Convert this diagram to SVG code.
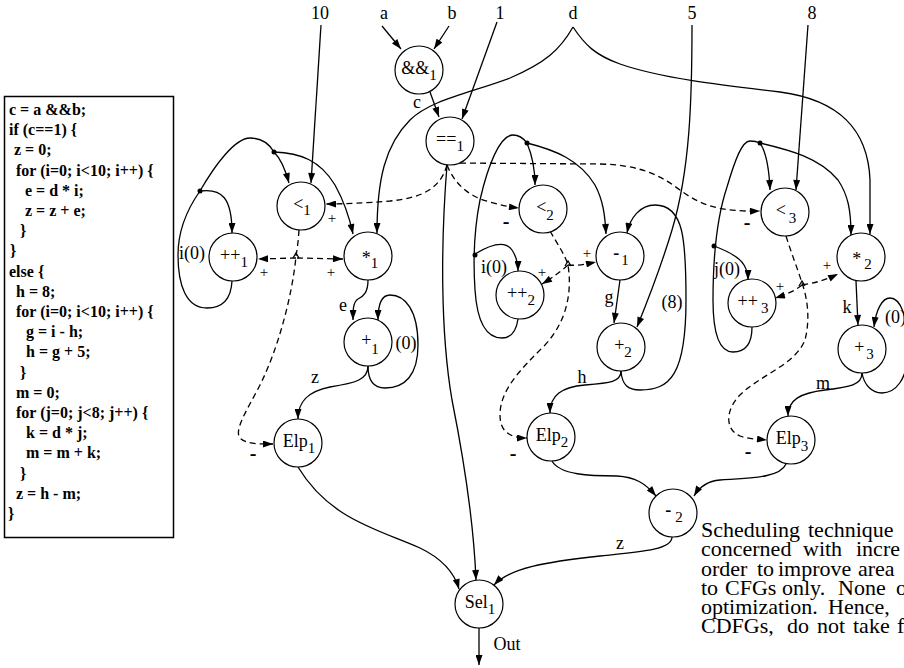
<svg xmlns="http://www.w3.org/2000/svg" width="904" height="668" viewBox="0 0 904 668">
<style>
text{font-family:"Liberation Serif","Times New Roman",serif;fill:#000}
.code{font-size:16px;font-weight:bold}
.lbl{font-size:18px}
.nl{font-size:18px;text-anchor:middle}
.sm{font-size:15px}
.mn{font-size:20px;font-weight:bold}
.par{font-size:22px}
.e{fill:none;stroke:#000;stroke-width:1.3}
.d{stroke-dasharray:6,4}
.n circle{fill:#fff;stroke:#000;stroke-width:1.2}
.dot{fill:#000}
</style>
<defs>
<marker id="ah" viewBox="0 0 10 7" refX="10" refY="3.5" markerWidth="11" markerHeight="7" markerUnits="userSpaceOnUse" orient="auto"><path d="M0,0 L10,3.5 L0,7 Z" fill="#000"/></marker>
</defs>
<rect x="4.5" y="96.5" width="169" height="441" fill="#fff" stroke="#000" stroke-width="1.5"/>
<g class="code">
<text x="9" y="115">c = a &amp;&amp;b;</text>
<text x="9" y="135">if (c==1) {</text>
<text x="14" y="155">z = 0;</text>
<text x="16" y="176">for (i=0; i&lt;10; i++) {</text>
<text x="25" y="196">e = d * i;</text>
<text x="25" y="216">z = z + e;</text>
<text x="20" y="236">}</text>
<text x="10" y="256">}</text>
<text x="9" y="277">else {</text>
<text x="16" y="297">h = 8;</text>
<text x="16" y="317">for (i=0; i&lt;10; i++) {</text>
<text x="26" y="337">g = i - h;</text>
<text x="26" y="357">h = g + 5;</text>
<text x="20" y="378">}</text>
<text x="16" y="398">m = 0;</text>
<text x="16" y="418">for (j=0; j&lt;8; j++) {</text>
<text x="26" y="438">k = d * j;</text>
<text x="26" y="458">m = m + k;</text>
<text x="20" y="479">}</text>
<text x="16" y="499">z = h - m;</text>
<text x="8" y="519">}</text>
</g>
<g id="inputs" class="lbl">
<text x="320" y="19" text-anchor="middle">10</text>
<text x="384" y="19" text-anchor="middle">a</text>
<text x="452" y="19" text-anchor="middle">b</text>
<text x="500" y="19" text-anchor="middle">1</text>
<text x="573" y="19" text-anchor="middle">d</text>
<text x="692" y="19" text-anchor="middle">5</text>
<text x="812" y="19" text-anchor="middle">8</text>
</g>
<g id="connectors">
<path class="e" marker-end="url(#ah)" d="M321,25 L311,183"/>
<path class="e" marker-end="url(#ah)" d="M382,26 L401,49"/>
<path class="e" marker-end="url(#ah)" d="M449,26 L434,49"/>
<path class="e" marker-end="url(#ah)" d="M430,92 L439,117"/>
<path class="e" marker-end="url(#ah)" d="M497,22 L462,119"/>
<path class="e" marker-end="url(#ah)" d="M573,27 C560,50 545,63 510,78 C470,93 430,100 410,120 C385,145 377,180 377,233"/>
<path class="e" marker-end="url(#ah)" d="M573,27 C585,45 595,55 620,64 C660,78 720,85 780,92 C840,100 868,130 870,180 L870,234"/>
<path class="e" marker-end="url(#ah)" d="M692,25 C692,100 690,170 672,230 C660,270 648,300 637,327"/>
<path class="e" marker-end="url(#ah)" d="M808,25 L796,190"/>
<path class="e" marker-end="url(#ah)" d="M447,165 C441,240 440,330 452,400 C466,470 474,530 476,580"/>
<!-- loop 1 -->
<path class="e" d="M232,281 C231,300 222,308 207,308 C186,308 178,285 178,255 C178,228 188,208 200,191 C215,165 235,138 250,138 C262,138 270,145 274,152"/>
<path class="e" marker-end="url(#ah)" d="M274,152 C282,160 286,172 289,183"/>
<path class="e" marker-end="url(#ah)" d="M274,152 C300,153 320,160 335,185 C345,203 350,220 353,234"/>
<path class="e" marker-end="url(#ah)" d="M200,191 C222,188 232,198 232,233"/>
<path class="e" marker-end="url(#ah)" d="M368,280 C368,292 364,296 358,299 C353,302 353,310 353,320"/>
<path class="e" marker-end="url(#ah)" d="M368,366 C368,378 372,388 385,388 C405,388 418,375 418,345 C418,310 405,295 390,295 C381,295 378,305 378,320"/>
<path class="e" marker-end="url(#ah)" d="M368,366 C368,380 355,383 330,387 C310,391 298,400 298,419"/>
<path class="e" marker-end="url(#ah)" d="M298,467 C330,520 380,530 420,548 C445,560 455,575 459,589"/>
<!-- loop 2 -->
<path class="e" d="M518,319 C516,333 510,338 502,338 C485,338 477,320 475,290 C473,260 474,230 480,200 C488,165 500,135 513,135 C520,135 524,139 527,143"/>
<path class="e" marker-end="url(#ah)" d="M527,143 C532,155 535,168 535,185"/>
<path class="e" marker-end="url(#ah)" d="M527,143 C555,150 580,160 595,185 C603,200 605,215 606,234"/>
<path class="e" marker-end="url(#ah)" d="M475,254 C490,245 505,240 512,250 C516,256 518,262 518,271"/>
<path class="e" marker-end="url(#ah)" d="M620,280 L614,323"/>
<path class="e" marker-end="url(#ah)" d="M621,371 C622,385 628,390 640,390 C670,390 686,375 686,300 C686,240 684,205 655,205 C640,205 630,218 627,233"/>
<path class="e" marker-end="url(#ah)" d="M621,371 C621,382 610,383 585,385 C562,387 550,395 550,413"/>
<path class="e" marker-end="url(#ah)" d="M552,461 C560,475 590,476 617,476 C635,477 645,483 656,496"/>
<!-- loop 3 -->
<path class="e" d="M752,327 C752,345 745,352 733,352 C718,352 713,330 713,300 C713,260 716,220 727,187 C735,160 742,141 750,141 C755,141 758,142 760,143"/>
<path class="e" marker-end="url(#ah)" d="M760,143 C766,152 769,165 770,190"/>
<path class="e" marker-end="url(#ah)" d="M760,143 C790,150 820,158 838,180 C848,195 851,210 851,235"/>
<path class="e" marker-end="url(#ah)" d="M714,246 C730,252 740,258 744,265 C747,270 748,274 748,280"/>
<path class="e" marker-end="url(#ah)" d="M856,281 L858,325"/>
<path class="e" marker-end="url(#ah)" d="M862,373 C864,385 872,393 882,393 C895,393 908,380 908,350 C908,315 900,298 890,298 C882,298 876,310 874,327"/>
<path class="e" marker-end="url(#ah)" d="M862,373 C862,385 850,387 825,390 C800,393 788,400 788,416"/>
<path class="e" marker-end="url(#ah)" d="M786,464 C780,478 750,478 720,480 C708,481 700,486 694,496"/>
<path class="e" marker-end="url(#ah)" d="M672,537 C672,550 640,552 600,556 C545,562 510,568 494,585"/>
<path class="e" marker-end="url(#ah)" d="M479,628 L479,665"/>
<!-- dashed control edges -->
<path class="e d" marker-end="url(#ah)" d="M447,165 C440,190 420,198 390,201 C365,203 345,204 326,204"/>
<path class="e d" marker-end="url(#ah)" d="M447,165 C455,185 470,197 490,202 C500,205 510,207 519,208"/>
<path class="e d" marker-end="url(#ah)" d="M450,163 L600,164 C640,165 660,175 680,190 C700,205 720,212 760,211"/>
<path class="e d" marker-end="url(#ah)" d="M299,230 C298,245 297,250 296,256 C293,290 280,345 260,385 C246,412 234,430 240,438 C246,444 258,444 273,444"/>
<path class="e d" marker-end="url(#ah)" d="M296,258 L258,259"/>
<path class="e d" marker-end="url(#ah)" d="M297,258 L343,259"/>
<path class="e" d="M293,258 L296,253 L299,258" stroke-width="1"/>
<path class="e d" marker-end="url(#ah)" d="M550,231 C558,245 565,255 568,265 C572,290 568,320 545,345 C520,370 500,390 500,415 C500,432 510,438 527,438"/>
<path class="e d" marker-end="url(#ah)" d="M568,265 C560,272 552,278 542,284"/>
<path class="e d" marker-end="url(#ah)" d="M568,265 C578,266 587,264 596,262"/>
<path class="e" d="M565,266 L568,261 L571,266" stroke-width="1"/>
<path class="e d" marker-end="url(#ah)" d="M786,236 C792,255 798,270 802,283 C808,300 810,320 805,340 C795,365 760,375 740,395 C725,410 725,430 740,436 C748,439 757,439 767,440"/>
<path class="e d" marker-end="url(#ah)" d="M802,285 C795,291 785,295 775,298"/>
<path class="e d" marker-end="url(#ah)" d="M802,285 C815,283 826,280 838,274"/>
<path class="e" d="M799,286 L802,281 L805,286" stroke-width="1"/>
</g>
<g id="dots" class="dot">
<circle cx="274" cy="152" r="2.5"/>
<circle cx="200" cy="191" r="2.5"/>
<circle cx="527" cy="143" r="2.5"/>
<circle cx="475" cy="255" r="2.5"/>
<circle cx="760" cy="143" r="2.5"/>
<circle cx="714" cy="246" r="2.5"/>
</g>
<g id="edge-labels" class="lbl">
<text x="417" y="108" text-anchor="middle">c</text>
<text x="343" y="311" text-anchor="middle">e</text>
<text x="315" y="383" text-anchor="middle">z</text>
<text x="406" y="349" text-anchor="middle">(0)</text>
<text x="192" y="259" text-anchor="middle">i(0)</text>
<text x="494" y="273" text-anchor="middle">i(0)</text>
<text x="727" y="275" text-anchor="middle">j(0)</text>
<text x="609" y="303" text-anchor="middle">g</text>
<text x="672" y="308" text-anchor="middle">(8)</text>
<text x="582" y="383" text-anchor="middle">h</text>
<text x="847" y="313" text-anchor="middle">k</text>
<text x="885" y="323">(0)</text>
<text x="823" y="389" text-anchor="middle">m</text>
<text x="620" y="549" text-anchor="middle">z</text>
<text x="507" y="650" text-anchor="middle">Out</text>
</g>
<g id="signs" class="sm" text-anchor="middle">
<text x="332" y="223">+</text>
<text x="264" y="277">+</text>
<text x="331" y="277">+</text>
<text x="542" y="277">+</text>
<text x="587" y="258">+</text>
<text x="780" y="291">+</text>
<text x="827" y="270">+</text>
<text class="mn" x="506" y="228">-</text>
<text class="mn" x="747" y="229">-</text>
<text class="mn" x="253" y="460">-</text>
<text class="mn" x="513" y="460">-</text>
<text class="mn" x="748" y="458">-</text>
</g>
<g id="and1" class="n"><circle cx="419" cy="70" r="24"/><text class="nl" x="419" y="74">&amp;&amp;<tspan class="sm" dy="6">1</tspan></text></g>
<g id="eq1" class="n"><circle cx="450" cy="141" r="24"/><text class="nl" x="450" y="145">==<tspan class="sm" dy="6">1</tspan></text></g>
<g id="lt1" class="n"><circle cx="301" cy="206" r="24"/><text class="nl" x="302" y="210">&lt;<tspan class="sm" dy="5">1</tspan></text></g>
<g id="inc1" class="n"><circle cx="233" cy="257" r="24"/><text class="nl" x="234" y="261">++<tspan class="sm" dy="6">1</tspan></text></g>
<g id="mul1" class="n"><circle cx="368" cy="256" r="24"/><text class="nl" x="370" y="264">*<tspan class="sm" dy="4">1</tspan></text></g>
<g id="add1" class="n"><circle cx="368" cy="342" r="24"/><text class="nl" x="370" y="346">+<tspan class="sm" dy="8">1</tspan></text></g>
<g id="elp1" class="n"><circle cx="298" cy="443" r="24"/><text class="nl" x="299" y="447">Elp<tspan class="sm" dy="6">1</tspan></text></g>
<g id="lt2" class="n"><circle cx="543" cy="209" r="24"/><text class="nl" x="545" y="213">&lt;<tspan class="sm" dy="7">2</tspan></text></g>
<g id="sub1" class="n"><circle cx="620" cy="256" r="24"/><text class="nl" x="621" y="259" font-weight="bold">-<tspan class="sm" font-weight="normal" dx="2" dy="6">1</tspan></text></g>
<g id="inc2" class="n"><circle cx="520" cy="295" r="24"/><text class="nl" x="521" y="299">++<tspan class="sm" dy="6">2</tspan></text></g>
<g id="add2" class="n"><circle cx="621" cy="347" r="24"/><text class="nl" x="623" y="351">+<tspan class="sm" dy="6">2</tspan></text></g>
<g id="elp2" class="n"><circle cx="551" cy="437" r="24"/><text class="nl" x="552" y="441">Elp<tspan class="sm" dy="6">2</tspan></text></g>
<g id="lt3" class="n"><circle cx="785" cy="212" r="24"/><text class="nl" x="786" y="216">&lt;<tspan class="sm" dx="3" dy="7">3</tspan></text></g>
<g id="mul2" class="n"><circle cx="861" cy="257" r="24"/><text class="nl" x="862" y="265">*<tspan class="sm" dx="3" dy="4">2</tspan></text></g>
<g id="inc3" class="n"><circle cx="752" cy="303" r="24"/><text class="nl" x="753" y="307">++<tspan class="sm" dx="3" dy="6">3</tspan></text></g>
<g id="add3" class="n"><circle cx="862" cy="349" r="24"/><text class="nl" x="864" y="353">+<tspan class="sm" dx="2" dy="6">3</tspan></text></g>
<g id="elp3" class="n"><circle cx="791" cy="440" r="24"/><text class="nl" x="792" y="444">Elp<tspan class="sm" dy="7">3</tspan></text></g>
<g id="sub2" class="n"><circle cx="673" cy="513" r="24"/><text class="nl" x="674" y="516" font-weight="bold">-<tspan class="sm" font-weight="normal" dx="4" dy="6">2</tspan></text></g>
<g id="sel1" class="n"><circle cx="479" cy="604" r="24"/><text class="nl" x="480" y="608">Sel<tspan class="sm" dy="6">1</tspan></text></g>
<g id="paragraph" class="par">
<text y="537"><tspan x="701">Scheduling</tspan><tspan x="808">technique</tspan></text>
<text y="556"><tspan x="701">concerned</tspan><tspan x="803">with</tspan><tspan x="856">incre</tspan></text>
<text y="576"><tspan x="701">order</tspan><tspan x="757">to</tspan><tspan x="778">improve</tspan><tspan x="858">area</tspan></text>
<text y="595"><tspan x="701">to</tspan><tspan x="725">CFGs</tspan><tspan x="782">only.</tspan><tspan x="838">None</tspan><tspan x="896">o</tspan></text>
<text y="614"><tspan x="701">optimization.</tspan><tspan x="828">Hence,</tspan></text>
<text y="633"><tspan x="701">CDFGs,</tspan><tspan x="787">do</tspan><tspan x="817">not</tspan><tspan x="853">take</tspan><tspan x="897">f</tspan></text>
</g>
</svg>
